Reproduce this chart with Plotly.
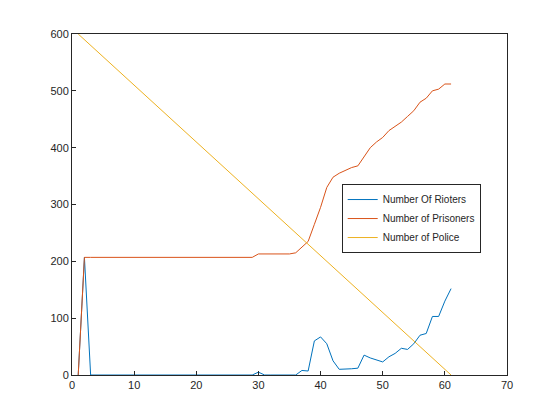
import plotly.graph_objects as go

steps = list(range(1, 62))

rioters = [0, 207, 0, 0, 0, 0, 0, 0, 0, 0,
           0, 0, 0, 0, 0, 0, 0, 0, 0, 0,
           0, 0, 0, 0, 0, 0, 0, 0, 0, 5,
           0, 0, 0, 0, 0, 0, 8, 7, 60, 67,
           55, 25, 10, 10, 11, 12, 35, 30, 27, 23,
           32, 38, 47, 45, 55, 70, 73, 103, 103, 130,
           152]

prisoners = [0, 207, 207, 207, 207, 207, 207, 207, 207, 207,
             207, 207, 207, 207, 207, 207, 207, 207, 207, 207,
             207, 207, 207, 207, 207, 207, 207, 207, 207, 213,
             213, 213, 213, 213, 213, 215, 225, 235, 265, 295,
             330, 348, 355, 360, 365, 368, 385, 400, 410, 418,
             430, 438, 445, 455, 465, 480, 487, 500, 503, 512,
             512]

police = [600, 590, 580, 570, 560, 550, 540, 530, 520, 510,
          500, 490, 480, 470, 460, 450, 440, 430, 420, 410,
          400, 390, 380, 370, 360, 350, 340, 330, 320, 310,
          300, 290, 280, 270, 260, 250, 240, 230, 220, 210,
          200, 190, 180, 170, 160, 150, 140, 130, 120, 110,
          100, 90, 80, 70, 60, 50, 40, 30, 20, 10,
          0]

fig = go.Figure()
fig.add_trace(go.Scatter(x=steps, y=rioters, mode="lines", name="Number Of Rioters",
                         line=dict(color="#0072BD", width=1)))
fig.add_trace(go.Scatter(x=steps, y=prisoners, mode="lines", name="Number of Prisoners",
                         line=dict(color="#D95319", width=1)))
fig.add_trace(go.Scatter(x=steps, y=police, mode="lines", name="Number of Police",
                         line=dict(color="#EDB120", width=1)))

axis = dict(showgrid=False, zeroline=False, showline=True, mirror=True,
            linecolor="#262626", linewidth=1, ticks="inside", ticklen=4,
            tickcolor="#262626", tickfont=dict(size=11, color="#262626"))

fig.update_xaxes(range=[0, 70], dtick=10, **axis)
fig.update_yaxes(range=[0, 600], dtick=100, **axis)

fig.update_layout(
    width=560, height=420,
    margin=dict(l=64, r=61, t=26, b=53),
    plot_bgcolor="white", paper_bgcolor="white",
    font=dict(family="Arial, Liberation Sans", size=11),
    legend=dict(x=0.62, y=0.56, xanchor="left", yanchor="top",
                bgcolor="white", bordercolor="#262626", borderwidth=1,
                font=dict(size=10, color="#262626"), tracegroupgap=0),
)

fig.write_html("out.html")
